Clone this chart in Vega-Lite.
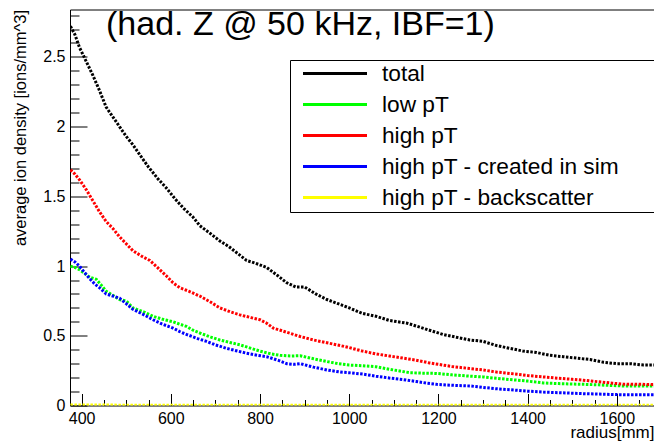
{
  "$schema": "https://vega.github.io/schema/vega-lite/v6.json",
  "width": 587,
  "height": 396,
  "autosize": {"type": "none"},
  "padding": {"left": 70, "top": 9.5, "right": 0, "bottom": 37},
  "background": "white",
  "view": {"stroke": "black", "strokeWidth": 1},
  "title": {
    "text": "(had. Z @ 50 kHz, IBF=1)",
    "frame": "group",
    "anchor": "start",
    "orient": "top",
    "font": "Liberation Sans",
    "fontSize": 34,
    "fontWeight": "normal",
    "color": "black",
    "baseline": "alphabetic",
    "dx": 36,
    "dy": 63
  },
  "data": {
    "values": [
      {"r": 375, "series": "total", "v": 2.72},
      {"r": 385, "series": "total", "v": 2.66},
      {"r": 395, "series": "total", "v": 2.57},
      {"r": 410, "series": "total", "v": 2.47},
      {"r": 425, "series": "total", "v": 2.37},
      {"r": 440, "series": "total", "v": 2.26},
      {"r": 455, "series": "total", "v": 2.14},
      {"r": 470, "series": "total", "v": 2.07},
      {"r": 485, "series": "total", "v": 2.0},
      {"r": 500, "series": "total", "v": 1.93},
      {"r": 515, "series": "total", "v": 1.87},
      {"r": 530, "series": "total", "v": 1.8},
      {"r": 550, "series": "total", "v": 1.71},
      {"r": 570, "series": "total", "v": 1.63},
      {"r": 590, "series": "total", "v": 1.56},
      {"r": 610, "series": "total", "v": 1.48},
      {"r": 630, "series": "total", "v": 1.41},
      {"r": 650, "series": "total", "v": 1.35},
      {"r": 665, "series": "total", "v": 1.29},
      {"r": 690, "series": "total", "v": 1.23},
      {"r": 710, "series": "total", "v": 1.18},
      {"r": 730, "series": "total", "v": 1.14},
      {"r": 750, "series": "total", "v": 1.09},
      {"r": 770, "series": "total", "v": 1.04},
      {"r": 790, "series": "total", "v": 1.02},
      {"r": 815, "series": "total", "v": 0.99},
      {"r": 840, "series": "total", "v": 0.93},
      {"r": 860, "series": "total", "v": 0.88},
      {"r": 880, "series": "total", "v": 0.85},
      {"r": 900, "series": "total", "v": 0.85},
      {"r": 925, "series": "total", "v": 0.8},
      {"r": 950, "series": "total", "v": 0.76},
      {"r": 975, "series": "total", "v": 0.73},
      {"r": 1000, "series": "total", "v": 0.7},
      {"r": 1030, "series": "total", "v": 0.66},
      {"r": 1060, "series": "total", "v": 0.64},
      {"r": 1090, "series": "total", "v": 0.61},
      {"r": 1130, "series": "total", "v": 0.59},
      {"r": 1150, "series": "total", "v": 0.57},
      {"r": 1180, "series": "total", "v": 0.54},
      {"r": 1210, "series": "total", "v": 0.51},
      {"r": 1240, "series": "total", "v": 0.49},
      {"r": 1270, "series": "total", "v": 0.47},
      {"r": 1300, "series": "total", "v": 0.46},
      {"r": 1330, "series": "total", "v": 0.43},
      {"r": 1360, "series": "total", "v": 0.41},
      {"r": 1390, "series": "total", "v": 0.39},
      {"r": 1420, "series": "total", "v": 0.38},
      {"r": 1450, "series": "total", "v": 0.36},
      {"r": 1480, "series": "total", "v": 0.35},
      {"r": 1510, "series": "total", "v": 0.34},
      {"r": 1540, "series": "total", "v": 0.33},
      {"r": 1570, "series": "total", "v": 0.31},
      {"r": 1600, "series": "total", "v": 0.3},
      {"r": 1630, "series": "total", "v": 0.3},
      {"r": 1660, "series": "total", "v": 0.29},
      {"r": 1690, "series": "total", "v": 0.29},

      {"r": 375, "series": "low pT", "v": 1.0},
      {"r": 385, "series": "low pT", "v": 0.99},
      {"r": 395, "series": "low pT", "v": 0.975},
      {"r": 410, "series": "low pT", "v": 0.94},
      {"r": 418, "series": "low pT", "v": 0.92},
      {"r": 433, "series": "low pT", "v": 0.905},
      {"r": 445, "series": "low pT", "v": 0.86},
      {"r": 455, "series": "low pT", "v": 0.82},
      {"r": 470, "series": "low pT", "v": 0.79},
      {"r": 485, "series": "low pT", "v": 0.76},
      {"r": 500, "series": "low pT", "v": 0.75},
      {"r": 515, "series": "low pT", "v": 0.7},
      {"r": 540, "series": "low pT", "v": 0.67},
      {"r": 560, "series": "low pT", "v": 0.64},
      {"r": 580, "series": "low pT", "v": 0.62},
      {"r": 605, "series": "low pT", "v": 0.6},
      {"r": 635, "series": "low pT", "v": 0.567},
      {"r": 650, "series": "low pT", "v": 0.54},
      {"r": 665, "series": "low pT", "v": 0.52},
      {"r": 690, "series": "low pT", "v": 0.49},
      {"r": 710, "series": "low pT", "v": 0.47},
      {"r": 735, "series": "low pT", "v": 0.45},
      {"r": 755, "series": "low pT", "v": 0.435},
      {"r": 780, "series": "low pT", "v": 0.41},
      {"r": 800, "series": "low pT", "v": 0.39},
      {"r": 825, "series": "low pT", "v": 0.37},
      {"r": 845, "series": "low pT", "v": 0.36},
      {"r": 870, "series": "low pT", "v": 0.355},
      {"r": 890, "series": "low pT", "v": 0.357},
      {"r": 920, "series": "low pT", "v": 0.335},
      {"r": 950, "series": "low pT", "v": 0.315},
      {"r": 975, "series": "low pT", "v": 0.3},
      {"r": 1000, "series": "low pT", "v": 0.29},
      {"r": 1030, "series": "low pT", "v": 0.285},
      {"r": 1060, "series": "low pT", "v": 0.278},
      {"r": 1090, "series": "low pT", "v": 0.26},
      {"r": 1136, "series": "low pT", "v": 0.235},
      {"r": 1165, "series": "low pT", "v": 0.232},
      {"r": 1196, "series": "low pT", "v": 0.23},
      {"r": 1230, "series": "low pT", "v": 0.22},
      {"r": 1271, "series": "low pT", "v": 0.21},
      {"r": 1300, "series": "low pT", "v": 0.205},
      {"r": 1330, "series": "low pT", "v": 0.195},
      {"r": 1361, "series": "low pT", "v": 0.186},
      {"r": 1400, "series": "low pT", "v": 0.175},
      {"r": 1435, "series": "low pT", "v": 0.162},
      {"r": 1470, "series": "low pT", "v": 0.157},
      {"r": 1500, "series": "low pT", "v": 0.154},
      {"r": 1525, "series": "low pT", "v": 0.152},
      {"r": 1560, "series": "low pT", "v": 0.148},
      {"r": 1590, "series": "low pT", "v": 0.143},
      {"r": 1615, "series": "low pT", "v": 0.14},
      {"r": 1650, "series": "low pT", "v": 0.14},
      {"r": 1690, "series": "low pT", "v": 0.14},

      {"r": 375, "series": "high pT", "v": 1.69},
      {"r": 385, "series": "high pT", "v": 1.66},
      {"r": 395, "series": "high pT", "v": 1.62},
      {"r": 410, "series": "high pT", "v": 1.55},
      {"r": 425, "series": "high pT", "v": 1.47},
      {"r": 440, "series": "high pT", "v": 1.39},
      {"r": 455, "series": "high pT", "v": 1.32},
      {"r": 470, "series": "high pT", "v": 1.27},
      {"r": 485, "series": "high pT", "v": 1.21},
      {"r": 500, "series": "high pT", "v": 1.16},
      {"r": 515, "series": "high pT", "v": 1.11},
      {"r": 535, "series": "high pT", "v": 1.07},
      {"r": 553, "series": "high pT", "v": 1.04},
      {"r": 570, "series": "high pT", "v": 0.99},
      {"r": 590, "series": "high pT", "v": 0.93},
      {"r": 605, "series": "high pT", "v": 0.88},
      {"r": 620, "series": "high pT", "v": 0.845},
      {"r": 640, "series": "high pT", "v": 0.82},
      {"r": 665, "series": "high pT", "v": 0.785},
      {"r": 690, "series": "high pT", "v": 0.74},
      {"r": 710, "series": "high pT", "v": 0.7},
      {"r": 735, "series": "high pT", "v": 0.67},
      {"r": 755, "series": "high pT", "v": 0.65},
      {"r": 780, "series": "high pT", "v": 0.63},
      {"r": 800, "series": "high pT", "v": 0.615},
      {"r": 815, "series": "high pT", "v": 0.59},
      {"r": 830, "series": "high pT", "v": 0.555},
      {"r": 860, "series": "high pT", "v": 0.525},
      {"r": 890, "series": "high pT", "v": 0.495},
      {"r": 920, "series": "high pT", "v": 0.47},
      {"r": 950, "series": "high pT", "v": 0.45},
      {"r": 980, "series": "high pT", "v": 0.43},
      {"r": 1000, "series": "high pT", "v": 0.415},
      {"r": 1030, "series": "high pT", "v": 0.39},
      {"r": 1060, "series": "high pT", "v": 0.37},
      {"r": 1090, "series": "high pT", "v": 0.355},
      {"r": 1120, "series": "high pT", "v": 0.34},
      {"r": 1150, "series": "high pT", "v": 0.325},
      {"r": 1180, "series": "high pT", "v": 0.305},
      {"r": 1200, "series": "high pT", "v": 0.295},
      {"r": 1230, "series": "high pT", "v": 0.28},
      {"r": 1270, "series": "high pT", "v": 0.265},
      {"r": 1300, "series": "high pT", "v": 0.255},
      {"r": 1330, "series": "high pT", "v": 0.24},
      {"r": 1360, "series": "high pT", "v": 0.23},
      {"r": 1400, "series": "high pT", "v": 0.215},
      {"r": 1435, "series": "high pT", "v": 0.205},
      {"r": 1470, "series": "high pT", "v": 0.195},
      {"r": 1500, "series": "high pT", "v": 0.188},
      {"r": 1525, "series": "high pT", "v": 0.181},
      {"r": 1560, "series": "high pT", "v": 0.17},
      {"r": 1590, "series": "high pT", "v": 0.16},
      {"r": 1615, "series": "high pT", "v": 0.153},
      {"r": 1650, "series": "high pT", "v": 0.152},
      {"r": 1690, "series": "high pT", "v": 0.15},

      {"r": 375, "series": "high pT - created in sim", "v": 1.05},
      {"r": 385, "series": "high pT - created in sim", "v": 1.03},
      {"r": 395, "series": "high pT - created in sim", "v": 1.0},
      {"r": 405, "series": "high pT - created in sim", "v": 0.96},
      {"r": 418, "series": "high pT - created in sim", "v": 0.91},
      {"r": 430, "series": "high pT - created in sim", "v": 0.87},
      {"r": 440, "series": "high pT - created in sim", "v": 0.845},
      {"r": 455, "series": "high pT - created in sim", "v": 0.8},
      {"r": 470, "series": "high pT - created in sim", "v": 0.785},
      {"r": 485, "series": "high pT - created in sim", "v": 0.77},
      {"r": 500, "series": "high pT - created in sim", "v": 0.73},
      {"r": 515, "series": "high pT - created in sim", "v": 0.69},
      {"r": 540, "series": "high pT - created in sim", "v": 0.65},
      {"r": 560, "series": "high pT - created in sim", "v": 0.615},
      {"r": 580, "series": "high pT - created in sim", "v": 0.585},
      {"r": 605, "series": "high pT - created in sim", "v": 0.555},
      {"r": 620, "series": "high pT - created in sim", "v": 0.53},
      {"r": 635, "series": "high pT - created in sim", "v": 0.51},
      {"r": 660, "series": "high pT - created in sim", "v": 0.48},
      {"r": 680, "series": "high pT - created in sim", "v": 0.46},
      {"r": 700, "series": "high pT - created in sim", "v": 0.435},
      {"r": 725, "series": "high pT - created in sim", "v": 0.41},
      {"r": 750, "series": "high pT - created in sim", "v": 0.39},
      {"r": 770, "series": "high pT - created in sim", "v": 0.375},
      {"r": 795, "series": "high pT - created in sim", "v": 0.36},
      {"r": 815, "series": "high pT - created in sim", "v": 0.35},
      {"r": 840, "series": "high pT - created in sim", "v": 0.325},
      {"r": 860, "series": "high pT - created in sim", "v": 0.3},
      {"r": 875, "series": "high pT - created in sim", "v": 0.295},
      {"r": 890, "series": "high pT - created in sim", "v": 0.3},
      {"r": 920, "series": "high pT - created in sim", "v": 0.275},
      {"r": 950, "series": "high pT - created in sim", "v": 0.255},
      {"r": 980, "series": "high pT - created in sim", "v": 0.24},
      {"r": 1000, "series": "high pT - created in sim", "v": 0.235},
      {"r": 1031, "series": "high pT - created in sim", "v": 0.225},
      {"r": 1060, "series": "high pT - created in sim", "v": 0.21},
      {"r": 1090, "series": "high pT - created in sim", "v": 0.197},
      {"r": 1121, "series": "high pT - created in sim", "v": 0.186},
      {"r": 1150, "series": "high pT - created in sim", "v": 0.172},
      {"r": 1175, "series": "high pT - created in sim", "v": 0.16},
      {"r": 1196, "series": "high pT - created in sim", "v": 0.152},
      {"r": 1230, "series": "high pT - created in sim", "v": 0.145},
      {"r": 1271, "series": "high pT - created in sim", "v": 0.14},
      {"r": 1300, "series": "high pT - created in sim", "v": 0.13},
      {"r": 1330, "series": "high pT - created in sim", "v": 0.12},
      {"r": 1361, "series": "high pT - created in sim", "v": 0.113},
      {"r": 1400, "series": "high pT - created in sim", "v": 0.103},
      {"r": 1435, "series": "high pT - created in sim", "v": 0.096},
      {"r": 1470, "series": "high pT - created in sim", "v": 0.092},
      {"r": 1500, "series": "high pT - created in sim", "v": 0.088},
      {"r": 1525, "series": "high pT - created in sim", "v": 0.085},
      {"r": 1560, "series": "high pT - created in sim", "v": 0.082},
      {"r": 1590, "series": "high pT - created in sim", "v": 0.079},
      {"r": 1615, "series": "high pT - created in sim", "v": 0.077},
      {"r": 1650, "series": "high pT - created in sim", "v": 0.077},
      {"r": 1690, "series": "high pT - created in sim", "v": 0.077},

      {"r": 375, "series": "high pT - backscatter", "v": 0.003},
      {"r": 700, "series": "high pT - backscatter", "v": 0.002},
      {"r": 1000, "series": "high pT - backscatter", "v": 0.002},
      {"r": 1300, "series": "high pT - backscatter", "v": 0.002},
      {"r": 1690, "series": "high pT - backscatter", "v": 0.002}
    ]
  },
  "mark": {"type": "line", "strokeWidth": 3, "strokeDash": [2.5, 1.5], "clip": true},
  "encoding": {
    "x": {
      "field": "r",
      "type": "quantitative",
      "scale": {"domain": [374, 1690], "nice": false, "zero": false},
      "axis": {
        "title": "radius[mm]",
        "titleFont": "Liberation Sans",
        "titleFontSize": 17,
        "titleFontWeight": "normal",
        "titleColor": "black",
        "titleAnchor": "end",
        "titleAlign": "right",
        "titleBaseline": "alphabetic",
        "titleX": 584,
        "titleY": 32,
        "values": [400, 450, 500, 550, 600, 650, 700, 750, 800, 850, 900, 950, 1000, 1050, 1100, 1150, 1200, 1250, 1300, 1350, 1400, 1450, 1500, 1550, 1600, 1650],
        "labelExpr": "datum.value % 200 == 0 ? datum.label : ''",
        "format": "d",
        "labelFont": "Liberation Sans",
        "labelFontSize": 16,
        "labelColor": "black",
        "labelFlush": false,
        "labelPadding": 17,
        "labelBaseline": "top",
        "tickColor": "black",
        "tickWidth": 1,
        "tickSize": {"condition": {"test": "datum.value % 200 == 0", "value": -12}, "value": -6},
        "domain": false,
        "grid": false
      }
    },
    "y": {
      "field": "v",
      "type": "quantitative",
      "scale": {"domain": [0, 2.84], "nice": false},
      "axis": {
        "title": "average ion density [ions/mm^3]",
        "titleFont": "Liberation Sans",
        "titleFontSize": 16.5,
        "titleFontWeight": "normal",
        "titleColor": "black",
        "titleAnchor": "end",
        "titleAlign": "right",
        "titleBaseline": "top",
        "titleAngle": -90,
        "titleX": -58,
        "titleY": 0,
        "values": [0, 0.1, 0.2, 0.3, 0.4, 0.5, 0.6, 0.7, 0.8, 0.9, 1, 1.1, 1.2, 1.3, 1.4, 1.5, 1.6, 1.7, 1.8, 1.9, 2, 2.1, 2.2, 2.3, 2.4, 2.5, 2.6, 2.7, 2.8],
        "labelExpr": "abs(datum.value * 2 - round(datum.value * 2)) < 0.000001 ? format(datum.value, '~g') : ''",
        "labelFont": "Liberation Sans",
        "labelFontSize": 16,
        "labelColor": "black",
        "labelFlush": false,
        "labelPadding": 22,
        "tickColor": "black",
        "tickWidth": 1,
        "tickSize": {"condition": {"test": "abs(datum.value * 2 - round(datum.value * 2)) < 0.000001", "value": -17}, "value": -9},
        "domain": false,
        "grid": false
      }
    },
    "color": {
      "field": "series",
      "type": "nominal",
      "scale": {
        "domain": ["total", "low pT", "high pT", "high pT - created in sim", "high pT - backscatter"],
        "range": ["#000000", "#00ff00", "#ff0000", "#0000ff", "#ffff00"]
      },
      "legend": {
        "title": null,
        "orient": "none",
        "legendX": 220,
        "legendY": 50.5,
        "direction": "vertical",
        "strokeColor": "black",
        "fillColor": "white",
        "padding": 2.5,
        "clipHeight": 22,
        "symbolType": "stroke",
        "symbolSize": 4096,
        "symbolStrokeWidth": 3,
        "symbolOffset": 9,
        "symbolDash": [1, 0],
        "labelFont": "Liberation Sans",
        "labelFontSize": 22.7,
        "labelColor": "black",
        "labelOffset": 13.5,
        "labelLimit": 500,
        "labelExpr": "datum.label + '\u00a0\u00a0\u00a0\u00a0\u00a0\u2009\u200b'",
        "rowPadding": 8
      }
    }
  }
}
